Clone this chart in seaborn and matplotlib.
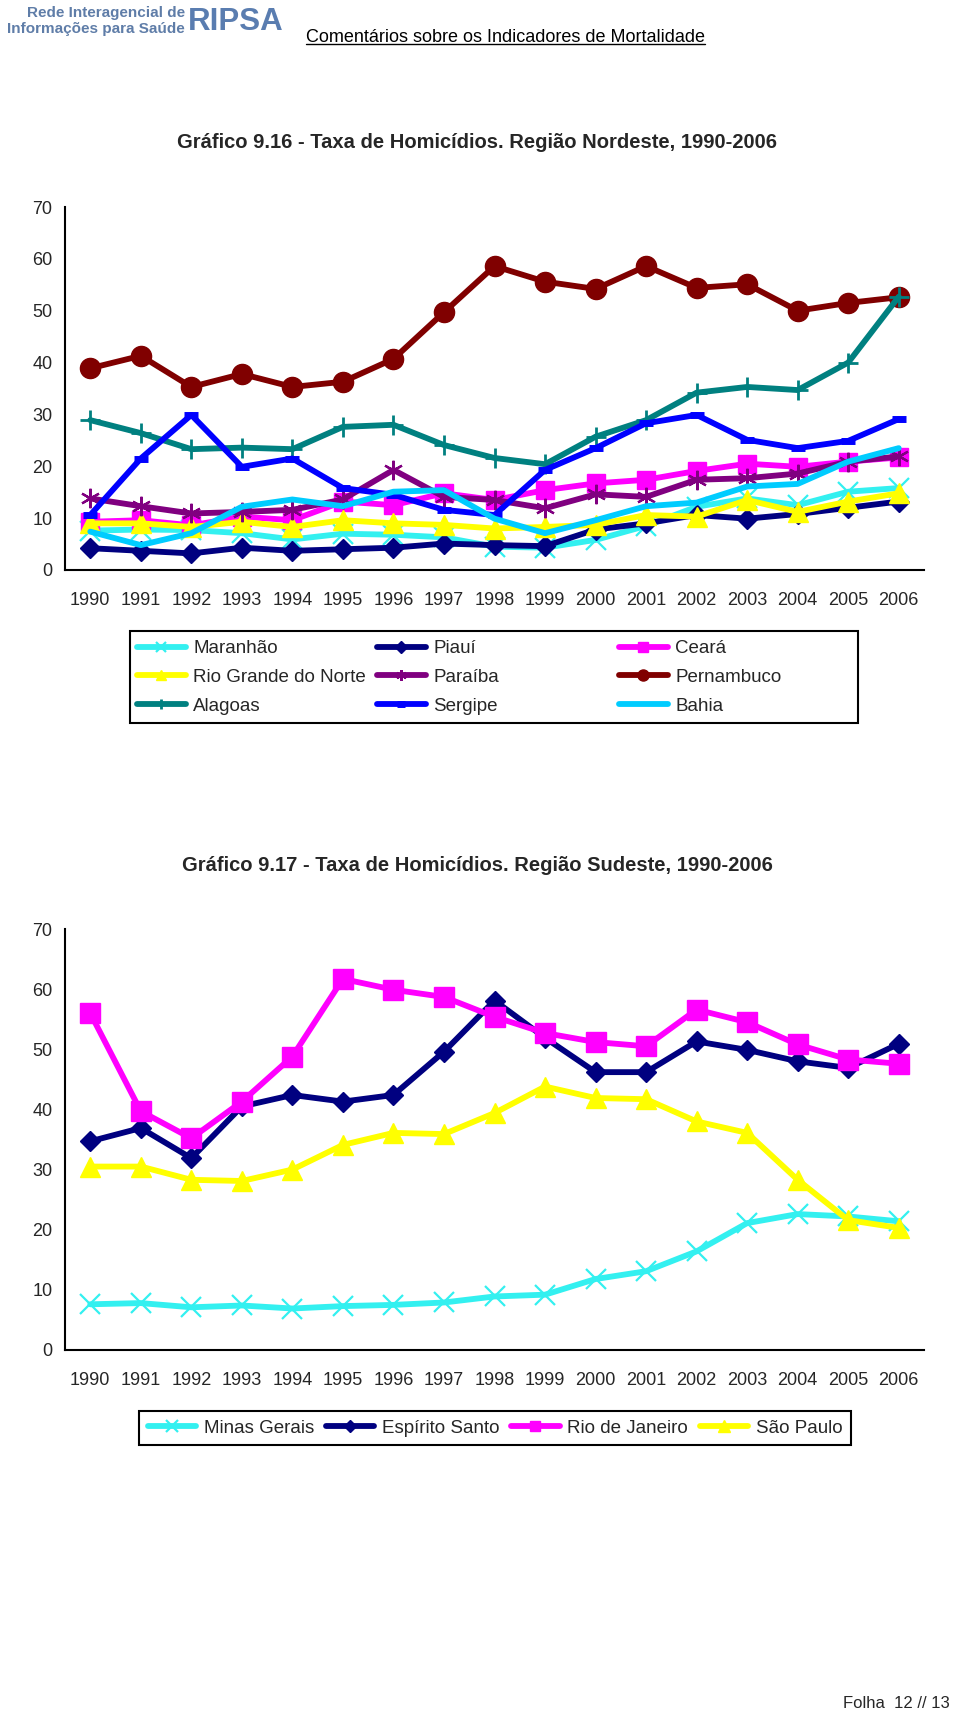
import numpy as np
import seaborn as sns
import matplotlib.pyplot as plt
from matplotlib.patches import Rectangle
from matplotlib.lines import Line2D

anos = list(range(1990, 2007))

# Grafico 9.16 - Nordeste
maranhao = [7.6, 7.8, 7.7, 7.1, 5.9, 7.0, 6.8, 6.3, 4.5, 4.3, 5.8, 8.5, 12.2, 13.8, 12.5, 15.1, 15.8]
piaui = [4.2, 3.7, 3.2, 4.3, 3.7, 4.0, 4.3, 5.1, 4.8, 4.6, 7.8, 9.0, 10.6, 9.9, 10.8, 12.0, 13.2]
ceara = [9.3, 9.6, 8.6, 10.3, 9.6, 13.2, 12.5, 14.8, 13.5, 15.4, 16.7, 17.4, 19.1, 20.5, 19.9, 20.9, 21.7]
rgn = [9.0, 9.0, 8.3, 9.3, 8.3, 9.6, 9.0, 8.7, 8.0, 8.3, 8.7, 10.6, 10.3, 13.5, 11.2, 13.2, 14.8]
paraiba = [13.8, 12.3, 10.9, 11.2, 11.6, 13.6, 19.3, 14.1, 13.5, 11.9, 14.6, 14.1, 17.4, 17.7, 18.6, 20.9, 21.9]
pernambuco = [38.9, 41.3, 35.3, 37.8, 35.3, 36.3, 40.7, 49.7, 58.6, 55.6, 54.2, 58.6, 54.4, 55.1, 50.0, 51.5, 52.6]
alagoas = [28.9, 26.4, 23.3, 23.6, 23.3, 27.6, 28.0, 24.1, 21.6, 20.4, 25.7, 28.9, 34.2, 35.3, 34.7, 40.0, 52.7]
sergipe = [10.6, 21.5, 29.9, 19.9, 21.5, 15.8, 14.5, 11.6, 10.6, 19.3, 23.5, 28.3, 29.9, 25.1, 23.5, 24.9, 29.1]
bahia = [7.4, 4.8, 7.1, 12.2, 13.6, 12.3, 15.1, 15.4, 9.9, 7.1, 9.6, 12.3, 13.0, 16.1, 16.6, 20.9, 23.5]

# Grafico 9.17 - Sudeste
minas = [7.6, 7.8, 7.1, 7.4, 6.9, 7.3, 7.5, 7.9, 8.9, 9.2, 11.8, 13.1, 16.4, 21.1, 22.6, 22.2, 21.4]
espirito = [34.7, 36.9, 31.9, 40.5, 42.4, 41.3, 42.4, 49.6, 58.1, 51.9, 46.2, 46.2, 51.3, 49.9, 48.0, 46.9, 50.9]
rio = [56.0, 39.7, 35.2, 41.3, 48.8, 61.7, 59.9, 58.7, 55.4, 52.7, 51.2, 50.5, 56.6, 54.5, 50.8, 48.3, 47.6]
saopaulo = [30.5, 30.5, 28.3, 28.1, 30.0, 34.1, 36.1, 35.9, 39.4, 43.8, 41.9, 41.7, 38.0, 36.1, 28.3, 21.6, 20.3]

nordeste = [
    ("Maranhão", maranhao, "#33F0F0", "x", 14, 1.6),
    ("Piauí", piaui, "#000080", "D", 10.5, 1),
    ("Ceará", ceara, "#FF00FF", "s", 13.5, 1),
    ("Rio Grande do Norte", rgn, "#FFFF00", "^", 14, 1),
    ("Paraíba", paraiba, "#800080", (6, 2, 0), 14, 1.6),
    ("Pernambuco", pernambuco, "#800000", "o", 14.5, 1),
    ("Alagoas", alagoas, "#008080", "+", 14, 2),
    ("Sergipe", sergipe, "#0000FF", "_", 10, 5),
    ("Bahia", bahia, "#00CCFF", None, 1, 1),
]
sudeste = [
    ("Minas Gerais", minas, "#33F0F0", "x", 15, 1.6),
    ("Espírito Santo", espirito, "#000080", "D", 10.5, 1),
    ("Rio de Janeiro", rio, "#FF00FF", "s", 14, 1),
    ("São Paulo", saopaulo, "#FFFF00", "^", 14.5, 1),
]

sns.set_style("white")
plt.rcParams['font.family'] = ['Liberation Sans', 'DejaVu Sans']

W, H = 960, 1712
fig = plt.figure(figsize=(W / 100, H / 100), dpi=100)


def fx(x):
    return x / W


def fy(y):
    return 1 - y / H


def grafico(top, bottom, series):
    ax = fig.add_axes([fx(65), fy(bottom), fx(924) - fx(65), fy(top) - fy(bottom)])
    for nome, vals, cor, marc, ms, mew in series:
        sns.lineplot(x=anos, y=vals, ax=ax, color=cor, linewidth=4.2, marker=marc,
                     markersize=ms, markerfacecolor=cor, markeredgecolor=cor,
                     markeredgewidth=mew, label=nome, legend=False)
    ax.set_xlim(1989.5, 2006.5)
    ax.set_ylim(0, 70)
    ax.set_yticks(range(0, 71, 10))
    ax.set_xticks(np.arange(1989.5, 2007, 1))
    ax.set_xticklabels([''] * 18)
    ax.set_xticks(anos, minor=True)
    ax.set_xticklabels([str(a) for a in anos], minor=True)
    ax.tick_params(axis='both', which='major', direction='out', length=5, width=1.5,
                   color='black', labelsize=13, pad=4)
    ax.tick_params(axis='x', which='minor', length=0, labelsize=13, pad=16)
    sns.despine(ax=ax)
    for s in ['left', 'bottom']:
        ax.spines[s].set_linewidth(1.5)
        ax.spines[s].set_color('black')
    ax.set_xlabel('')
    ax.set_ylabel('')
    return ax


ax1 = grafico(207, 570, nordeste)
ax2 = grafico(929, 1350, sudeste)

# cabecalho
fig.text(fx(185), fy(13), "Rede Interagencial de", ha='right', va='center',
         fontsize=11, weight='bold', color='#5F7DA8')
fig.text(fx(185), fy(29.5), "Informações para Saúde", ha='right', va='center',
         fontsize=11, weight='bold', color='#5F7DA8')
fig.text(fx(188), fy(22), "RIPSA", ha='left', va='center', fontsize=22.5,
         weight='bold', color='#5A7DB0')
cab = fig.text(fx(306), fy(37), "Comentários sobre os Indicadores de Mortalidade",
               ha='left', va='center', fontsize=13, color='black')

fig.text(fx(477), fy(143), "Gráfico 9.16 - Taxa de Homicídios. Região Nordeste, 1990-2006",
         ha='center', va='center', fontsize=14.5, weight='bold')
fig.text(fx(477), fy(865), "Gráfico 9.17 - Taxa de Homicídios. Região Sudeste, 1990-2006",
         ha='center', va='center', fontsize=14.5, weight='bold')
fig.text(fx(950), fy(1703), "Folha  12 // 13", ha='right', va='center', fontsize=12)

# legenda nordeste: 3 colunas fixas
linhas = ax1.get_lines()
colunas = [[0, 3, 6], [1, 4, 7], [2, 5, 8]]
for xc, idx in zip([137, 377, 619], colunas):
    fig.legend([linhas[i] for i in idx], [nordeste[i][0] for i in idx],
               loc='upper left', bbox_to_anchor=(fx(xc), fy(640)), frameon=False,
               fontsize=13.5, handlelength=2.6, handletextpad=0.4, labelspacing=0.62,
               borderpad=0, borderaxespad=0, markerscale=0.55)
fig.add_artist(Rectangle((fx(130), fy(723)), fx(858) - fx(130), fy(631) - fy(723),
                         transform=fig.transFigure, fill=False, lw=1.5, edgecolor='black'))

# legenda sudeste
leg2 = fig.legend(ax2.get_lines(), [s[0] for s in sudeste], loc='center', ncol=4,
                  bbox_to_anchor=(fx(495), fy(1428)), fontsize=13.5, handlelength=2.6,
                  handletextpad=0.4, columnspacing=0.62, borderpad=0.45,
                  borderaxespad=0, markerscale=0.55, fancybox=False, framealpha=1,
                  edgecolor='black')
leg2.get_frame().set_linewidth(1.5)

# sublinhado do cabecalho
fig.canvas.draw()
bb = cab.get_window_extent().transformed(fig.transFigure.inverted())
fig.add_artist(Line2D([bb.x0, bb.x1], [bb.y0 + 0.0008, bb.y0 + 0.0008],
                      transform=fig.transFigure, color='black', lw=1))

fig.savefig("out.png", dpi=100, facecolor='white')
